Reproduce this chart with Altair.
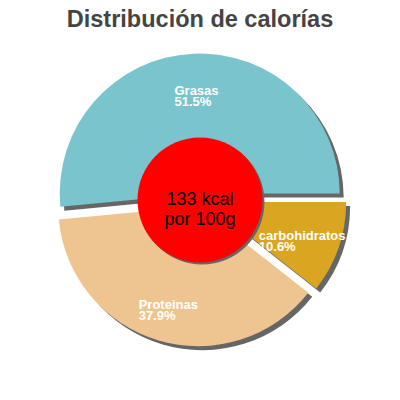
import math
import altair as alt
import pandas as pd

# ---- data ----
names = ["carbohidratos", "Proteinas", "Grasas"]
percents = [10.6, 37.9, 51.5]
colors = ["#DAA520", "#EEC591", "#7AC5CD"]
kcal_values = [133]
center_suffix = ["kcal", "por 100g"]
title_text = "Distribución de calorías"

# ---- layout constants ----
W, H = 384, 349
PAD_TOP = 35
R = 140
EXPLODE = 6.5
LABEL_R = 109
HOLE_R = 70.5
FONT = "Liberation Sans"

slices = pd.DataFrame({"name": names, "pct": percents, "color": colors})
center = pd.DataFrame({"kcal": kcal_values})

xs = alt.Scale(domain=[-W / 2, W / 2], nice=False, zero=False)
ys = alt.Scale(domain=[-(W / 2), H - W / 2], nice=False, zero=False)
ts = alt.Scale(domain=[0, 100], range=[math.pi / 2, math.pi / 2 + 2 * math.pi])

base = alt.Chart(slices).transform_window(
    cum="sum(pct)", frame=[None, 0]
).transform_calculate(
    start="datum.cum - datum.pct",
    mid="PI/2 + 2*PI*(datum.cum - datum.pct/2)/100",
).transform_calculate(
    cx=f"{EXPLODE}*sin(datum.mid)",
    cy=f"{EXPLODE}*cos(datum.mid)",
    lx=f"{LABEL_R}*sin(datum.mid) - length(datum.name)*3.4",
    ly=f"{LABEL_R}*cos(datum.mid)",
    label="[datum.name, format(datum.pct, '.1f') + '%']",
)

enc = dict(
    x=alt.X("cx:Q", scale=xs, axis=None),
    y=alt.Y("cy:Q", scale=ys, axis=None),
    theta=alt.Theta("start:Q", scale=ts),
    theta2="cum:Q",
)

shadow = base.mark_arc(radius=R, color="#666666", xOffset=4, yOffset=4).encode(**enc)
arcs = base.mark_arc(radius=R).encode(
    color=alt.Color("color:N", scale=None, legend=None), **enc
)
labels = base.mark_text(
    align="left", baseline="middle", fontSize=13, lineHeight=11,
    fontWeight="bold", color="white", font=FONT,
).encode(
    x=alt.X("lx:Q", scale=xs, axis=None),
    y=alt.Y("ly:Q", scale=ys, axis=None),
    text="label:N",
)

cbase = alt.Chart(center)
hole_shadow = cbase.mark_circle(
    size=math.pi * HOLE_R ** 2, color="#666666", opacity=1, xOffset=2, yOffset=2
).encode(x=alt.datum(0), y=alt.datum(0))
hole = cbase.mark_circle(
    size=math.pi * HOLE_R ** 2, color="#FF0000", opacity=1
).encode(x=alt.datum(0), y=alt.datum(0))
center_text = cbase.transform_calculate(
    label=f"[datum.kcal + ' {center_suffix[0]}', '{center_suffix[1]}']"
).mark_text(
    align="center", baseline="middle", fontSize=18, lineHeight=20,
    color="black", font=FONT,
).encode(x=alt.datum(0), y=alt.datum(0), text="label:N")

chart = alt.layer(
    shadow, arcs, labels, hole_shadow, hole, center_text
).properties(
    width=W,
    height=H,
    title=alt.Title(
        title_text, fontSize=23.5, font=FONT, fontWeight="bold",
        color="#444444", anchor="middle", offset=12,
    ),
    autosize=alt.AutoSizeParams(type="none"),
    padding={"top": PAD_TOP, "left": 0, "right": 0, "bottom": 0},
).configure_view(stroke=None)

chart.save("out.html", embed_options={"renderer": "svg", "actions": False})
